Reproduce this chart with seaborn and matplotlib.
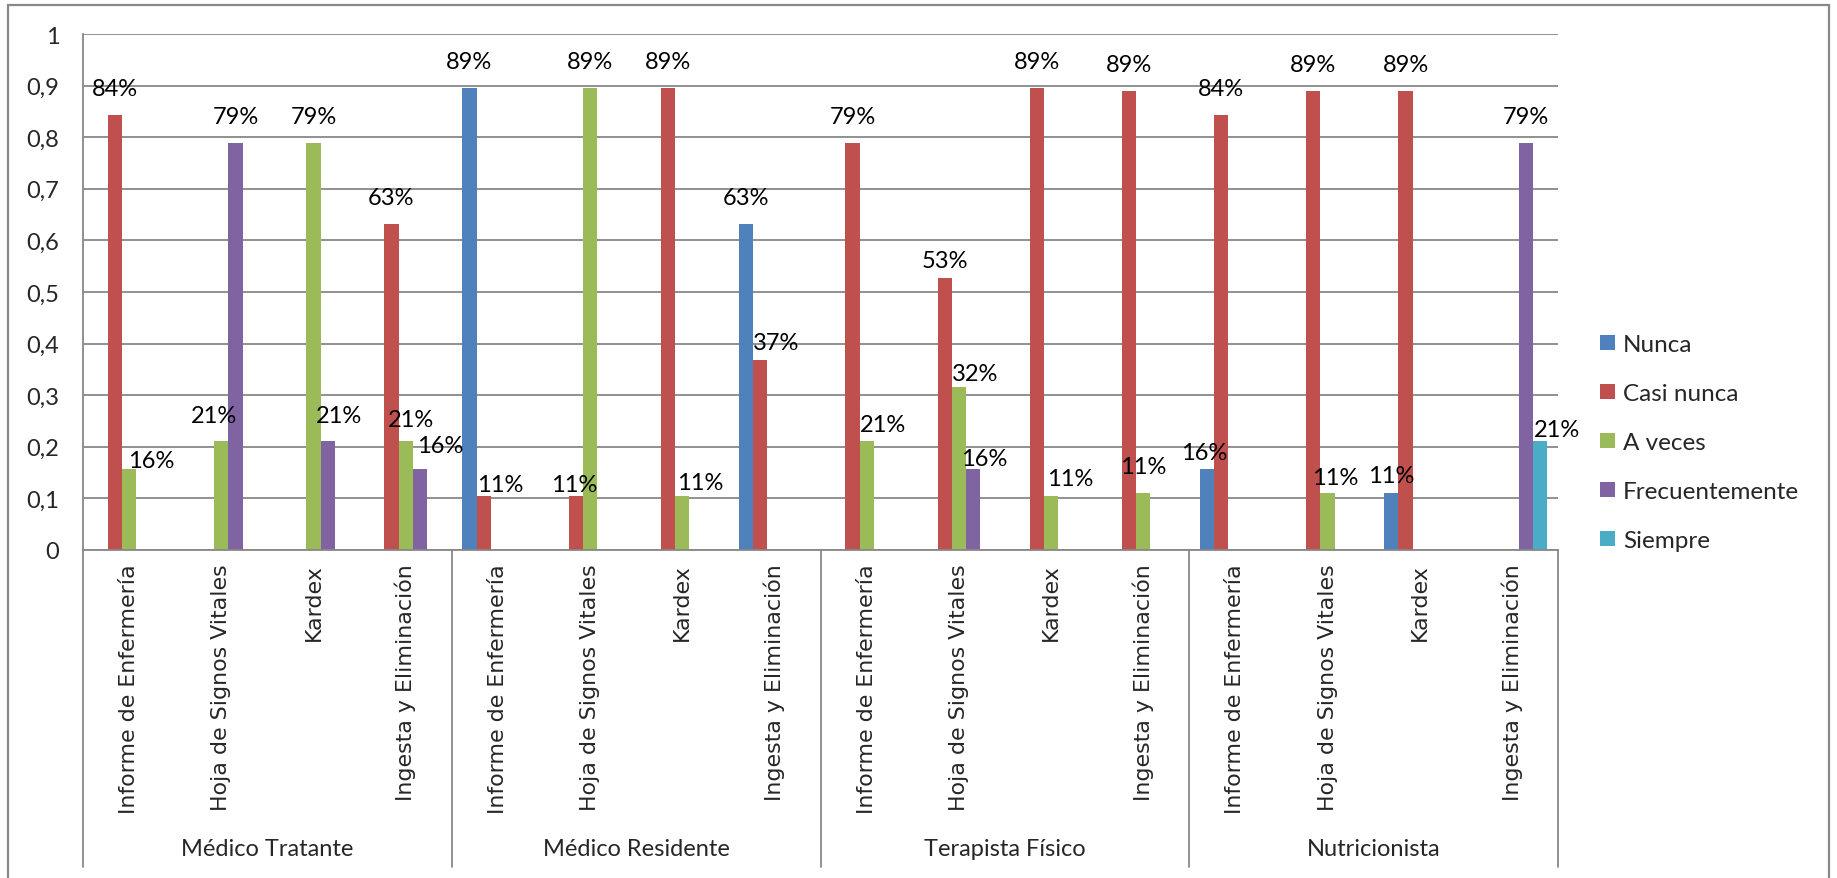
import matplotlib
matplotlib.use("Agg")
import matplotlib.pyplot as plt
import matplotlib.transforms as mtransforms
from matplotlib.patches import Rectangle
import numpy as np
import pandas as pd
import seaborn as sns

# ---- data -------------------------------------------------------------
groups = ["Médico Tratante", "Médico Residente", "Terapista Físico", "Nutricionista"]
documents = ["Informe de Enfermería", "Hoja de Signos Vitales", "Kardex", "Ingesta y Eliminación"]
series = ["Nunca", "Casi nunca", "A veces", "Frecuentemente", "Siempre"]

# one value per (group, document), in the order of groups x documents
nunca = [0, 0, 0, 0,
         0.8947, 0, 0, 0.6316,
         0, 0, 0, 0,
         0.1579, 0, 0.1111, 0]
casi_nunca = [0.8421, 0, 0, 0.6316,
              0.1053, 0.1053, 0.8947, 0.3684,
              0.7895, 0.5263, 0.8947, 0.8889,
              0.8421, 0.8889, 0.8889, 0]
a_veces = [0.1579, 0.2105, 0.7895, 0.2105,
           0, 0.8947, 0.1053, 0,
           0.2105, 0.3158, 0.1053, 0.1111,
           0, 0.1111, 0, 0]
frecuentemente = [0, 0.7895, 0.2105, 0.1579,
                  0, 0, 0, 0,
                  0, 0.1579, 0, 0,
                  0, 0, 0, 0.7895]
siempre = [0, 0, 0, 0,
           0, 0, 0, 0,
           0, 0, 0, 0,
           0, 0, 0, 0.2105]

y_ticks = [0, 0.1, 0.2, 0.3, 0.4, 0.5, 0.6, 0.7, 0.8, 0.9, 1]
y_tick_labels = ["0", "0,1", "0,2", "0,3", "0,4", "0,5", "0,6", "0,7", "0,8", "0,9", "1"]

colors = ["#4F81BD", "#C0504D", "#9BBB59", "#8064A2", "#4BACC6"]

# ---- long table for seaborn -------------------------------------------
values_by_series = [nunca, casi_nunca, a_veces, frecuentemente, siempre]
keys = [f"{g}|{d}" for g in groups for d in documents]
rows = []
for s, vals in zip(series, values_by_series):
    for k, v in zip(keys, vals):
        rows.append({"categoria": k, "serie": s, "valor": v})
df = pd.DataFrame(rows)

# ---- figure -----------------------------------------------------------
sns.set_style("white")
plt.rcParams["font.family"] = ["Lato", "DejaVu Sans"]

W, H = 1837, 879
fig = plt.figure(figsize=(W / 100, H / 100), dpi=100)
left_px, right_px, top_px, bottom_px = 83, 1558, 35, 551
ax = fig.add_axes([left_px / W, 1 - bottom_px / H,
                   (right_px - left_px) / W, (bottom_px - top_px) / H])

sns.barplot(data=df, x="categoria", y="valor", hue="serie", order=keys,
            hue_order=series, palette=colors, width=5 / 6.5, linewidth=0,
            saturation=1, ax=ax, legend=True, errorbar=None)

grid_color = "#888888"
ax.set_xlim(-0.5, len(keys) - 0.5)
ax.set_ylim(0, 1)
ax.set_yticks(y_ticks)
ax.set_yticklabels(y_tick_labels, fontsize=17)
ax.yaxis.grid(True, color=grid_color, linewidth=1.3)
ax.set_axisbelow(True)
ax.tick_params(axis="y", length=0, pad=17)
ax.tick_params(axis="x", length=0, pad=9.5)
ax.set_xlabel("")
ax.set_ylabel("")

ax.set_xticks(range(len(keys)))
ax.set_xticklabels([d for g in groups for d in documents], rotation=90,
                   ha="center", va="top", fontsize=15.9,
                   family=["DejaVu Sans"])

for side in ["top", "right"]:
    ax.spines[side].set_visible(False)
for side in ["left", "bottom"]:
    ax.spines[side].set_color(grid_color)
    ax.spines[side].set_linewidth(1.3)

# multi-level category axis: separators and group names
trans = mtransforms.blended_transform_factory(ax.transData, ax.transAxes)
sep_bottom = -(868 - bottom_px) / (bottom_px - top_px)
for xb in np.arange(-0.5, len(keys), len(documents)):
    ax.plot([xb, xb], [0, sep_bottom], color=grid_color, linewidth=1.3,
            transform=trans, clip_on=False)
group_y = -(850 - bottom_px) / (bottom_px - top_px)
for i, g in enumerate(groups):
    xc = i * len(documents) + (len(documents) - 1) / 2
    ax.text(xc, group_y, g, transform=trans, ha="center", va="center",
            fontsize=17)

# ---- value labels -----------------------------------------------------
# pixel offsets (dx, dy) from the top centre of a bar, keyed by (category, series)
label_offsets = {
    (0, 2): (22, 8.5), (1, 2): (-7.5, 26), (2, 3): (11, 26),
    (3, 2): (5.5, 22), (3, 3): (20, 23),
    (4, 1): (17, 11), (5, 1): (-2, 11), (6, 2): (18, 13.5), (7, 1): (16, 17),
    (8, 2): (16, 17), (9, 1): (0, 17.5), (9, 2): (16, 14), (9, 3): (11, 10.5),
    (10, 2): (19, 17), (11, 2): (0, 26),
    (12, 0): (-3, 16.5), (13, 2): (8, 15), (14, 0): (0, 17), (15, 4): (17, 12),
}
for si, cont in enumerate(ax.containers):
    for ci, bar in enumerate(cont):
        h = bar.get_height()
        if h <= 0:
            continue
        dx, dy = label_offsets.get((ci, si), (0, 26.5))
        ax.annotate(f"{h:.0%}", (bar.get_x() + bar.get_width() / 2, h),
                    xytext=(dx, dy), textcoords="offset pixels",
                    ha="center", va="center", fontsize=17, color="black",
                    annotation_clip=False)

# ---- legend -----------------------------------------------------------
handles, labels = ax.get_legend_handles_labels()
ax.legend(handles, labels, loc="center left",
          bbox_to_anchor=(1600 / W, 1 - 443.4 / H),
          bbox_transform=fig.transFigure, frameon=False, fontsize=17.5,
          handlelength=0.6, handleheight=0.6, handletextpad=0.35,
          labelspacing=1.15, borderpad=0, borderaxespad=0)

# chart border
fig.add_artist(Rectangle((7.5 / W, -0.01), (1828.5 - 7.5) / W, 1.01 - 6 / H,
                         transform=fig.transFigure, fill=False,
                         edgecolor=grid_color, linewidth=1.6))

fig.savefig("out.png", dpi=100, facecolor="white")
